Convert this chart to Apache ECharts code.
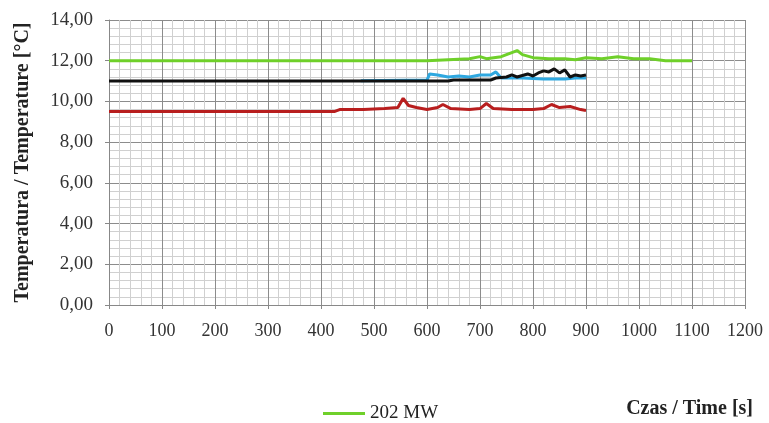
<!DOCTYPE html>
<html>
<head>
<meta charset="utf-8">
<script src="https://cdn.jsdelivr.net/npm/echarts@6/dist/echarts.min.js"></script>
<style>
  html, body { margin: 0; padding: 0; background: #fff; }
  #chart { width: 769px; height: 423px; }
</style>
</head>
<body>
<div id="chart"></div>
<script>
// czas [s] i temperatura [°C]
var greenTime = [0, 600, 640, 680, 700, 712, 740, 760, 770, 780, 800, 830, 860, 880, 900, 930, 960, 990, 1020, 1050, 1100];
var greenTemp = [12, 12, 12.05, 12.1, 12.2, 12.1, 12.2, 12.4, 12.5, 12.3, 12.15, 12.1, 12.1, 12.05, 12.15, 12.1, 12.2, 12.1, 12.1, 12.0, 12.0];

var blueTime = [475, 600, 605, 620, 640, 660, 680, 700, 720, 730, 740, 780, 820, 860, 880, 900];
var blueTemp = [11.02, 11.05, 11.35, 11.3, 11.2, 11.25, 11.2, 11.3, 11.3, 11.45, 11.15, 11.15, 11.1, 11.1, 11.15, 11.15];

var blackTime = [0, 640, 650, 720, 730, 750, 760, 770, 790, 800, 810, 820, 830, 840, 850, 860, 870, 880, 890, 900];
var blackTemp = [11, 11, 11.05, 11.05, 11.15, 11.2, 11.3, 11.2, 11.35, 11.25, 11.4, 11.5, 11.45, 11.6, 11.4, 11.55, 11.2, 11.3, 11.25, 11.3];

var redTime = [0, 425, 435, 480, 520, 545, 555, 565, 580, 600, 620, 630, 645, 680, 700, 712, 725, 760, 800, 820, 835, 850, 870, 890, 900];
var redTemp = [9.5, 9.5, 9.6, 9.6, 9.65, 9.7, 10.15, 9.8, 9.7, 9.6, 9.7, 9.85, 9.65, 9.6, 9.65, 9.9, 9.65, 9.6, 9.6, 9.65, 9.85, 9.7, 9.75, 9.6, 9.55];

var legendNames = ['202 MW'];

function pairs(t, v) {
  return t.map(function (x, i) { return [x, v[i]]; });
}

var chart = echarts.init(document.getElementById('chart'));

var serif = '"Liberation Serif", "DejaVu Serif", serif';

var option = {
  animation: false,
  textStyle: { fontFamily: serif },
  grid: { left: 109, right: 24, top: 20, bottom: 118 },
  legend: {
    data: legendNames,
    left: 318,
    top: 399,
    icon: 'rect',
    itemWidth: 42,
    itemHeight: 3,
    itemGap: 2,
    textStyle: { fontFamily: serif, fontSize: 19, color: '#222' }
  },
  xAxis: {
    type: 'value',
    min: 0,
    max: 1200,
    interval: 100,
    name: 'Czas / Time [s]',
    nameLocation: 'end',
    nameGap: 8,
    nameTextStyle: {
      fontFamily: serif, fontSize: 20, fontWeight: 'bold', color: '#222',
      align: 'right', verticalAlign: 'top', padding: [94, 0, 0, 0]
    },
    axisLine: { lineStyle: { color: '#888' } },
    axisTick: { show: true, inside: false, length: 4, lineStyle: { color: '#888' } },
    axisLabel: {
      fontFamily: serif, fontSize: 18, color: '#333', margin: 17,
      formatter: function (v) { return String(v); }
    },
    splitLine: { show: true, lineStyle: { color: '#8c8c8c', width: 1 } },
    minorTick: { show: false, splitNumber: 5 },
    minorSplitLine: { show: true, lineStyle: { color: '#d0d0d0', width: 1 } }
  },
  yAxis: {
    type: 'value',
    min: 0,
    max: 14,
    interval: 2,
    name: 'Temperatura / Temperature [°C]',
    nameLocation: 'middle',
    nameGap: 76,
    nameTextStyle: { fontFamily: serif, fontSize: 20, fontWeight: 'bold', color: '#222' },
    axisLine: { show: true, lineStyle: { color: '#888' } },
    axisTick: { show: true, length: 4, lineStyle: { color: '#888' } },
    axisLabel: {
      fontFamily: serif, fontSize: 19, color: '#333', margin: 16,
      formatter: function (v) { return v.toFixed(2).replace('.', ','); }
    },
    splitLine: { show: true, lineStyle: { color: '#8c8c8c', width: 1 } },
    minorTick: { show: false, splitNumber: 5 },
    minorSplitLine: { show: true, lineStyle: { color: '#d0d0d0', width: 1 } }
  },
  series: [
    {
      name: '202 MW', type: 'line', showSymbol: false, symbol: 'none',
      data: pairs(greenTime, greenTemp),
      lineStyle: { color: '#6fd02a', width: 3 }, itemStyle: { color: '#6fd02a' }
    },
    {
      name: 'seria 2', type: 'line', showSymbol: false, symbol: 'none',
      data: pairs(blueTime, blueTemp),
      lineStyle: { color: '#2fa8e0', width: 3 }, itemStyle: { color: '#2fa8e0' }
    },
    {
      name: 'seria 3', type: 'line', showSymbol: false, symbol: 'none',
      data: pairs(blackTime, blackTemp),
      lineStyle: { color: '#111', width: 3 }, itemStyle: { color: '#111' }
    },
    {
      name: 'seria 4', type: 'line', showSymbol: false, symbol: 'none',
      data: pairs(redTime, redTemp),
      lineStyle: { color: '#b81e1e', width: 3 }, itemStyle: { color: '#b81e1e' }
    }
  ]
};

chart.setOption(option);
</script>
</body>
</html>
